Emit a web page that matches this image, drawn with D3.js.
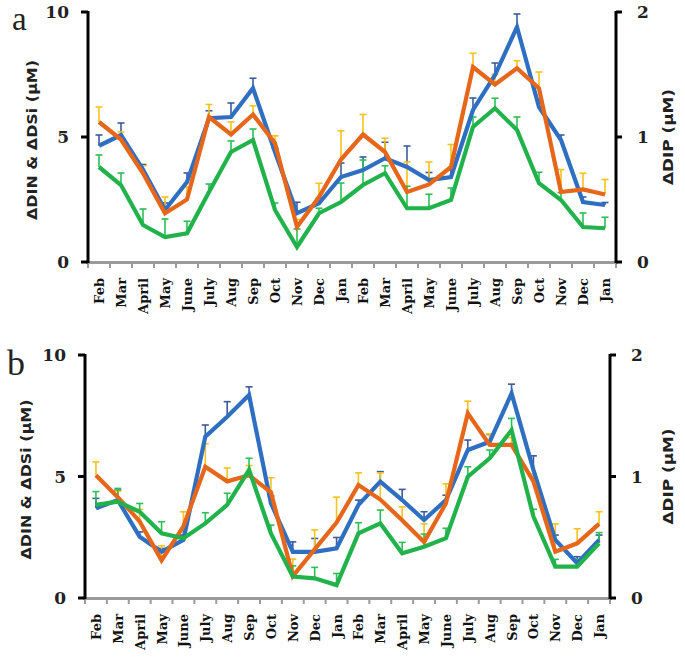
<!DOCTYPE html>
<html>
<head>
<meta charset="utf-8">
<script src="https://cdn.jsdelivr.net/npm/d3@7"></script>
<style>
  html, body { margin: 0; padding: 0; background: #fff; }
  svg { display: block; }
</style>
</head>
<body>
<svg id="chart" width="685" height="660"></svg>
<script>
// ---------- DATA ----------
const months = ["Feb","Mar","April","May","June","July","Aug","Sep","Oct","Nov","Dec","Jan",
                "Feb","Mar","April","May","June","July","Aug","Sep","Oct","Nov","Dec","Jan"];
const leftTicks = [0, 5, 10];
const rightTicks = [0, 1, 2];

// Panel a
const aDIN    = [4.65,5.08,3.70,2.08,3.20,5.75,5.80,6.95,4.40,1.95,2.35,3.40,3.68,4.15,3.80,3.28,3.40,6.08,7.48,9.40,6.20,4.88,2.40,2.28];
const aDINErr = [0.43,0.48,0.20,0.28,0.36,0.30,0.56,0.40,0.15,0.44,0.20,0.56,0.52,0.64,0.84,0.30,0.30,0.48,0.48,0.52,0.30,0.20,0.20,0.10];
const aDSi    = [3.80,3.08,1.48,1.00,1.15,2.80,4.40,4.88,2.08,0.60,1.95,2.40,3.08,3.55,2.15,2.15,2.48,5.40,6.15,5.28,3.15,2.48,1.40,1.35];
const aDSiErr = [0.48,0.48,0.64,0.72,0.48,0.32,0.44,0.44,0.28,0.72,0.20,0.76,1.00,0.30,0.88,0.56,0.48,0.40,0.40,0.52,0.44,0.30,0.56,0.44];
const aDIP    = [1.12,0.98,0.71,0.39,0.50,1.16,1.02,1.18,0.95,0.28,0.52,0.82,1.02,0.88,0.56,0.62,0.76,1.56,1.42,1.55,1.39,0.56,0.58,0.54];
const aDIPErr = [0.12,0.06,0.06,0.13,0.10,0.10,0.10,0.07,0.06,0.06,0.11,0.23,0.16,0.11,0.24,0.18,0.18,0.11,0.08,0.06,0.13,0.18,0.13,0.12];

// Panel b
const bDIN    = [3.69,4.03,2.52,1.90,2.39,6.64,7.46,8.35,3.90,1.90,1.90,2.04,3.83,4.79,4.03,3.21,4.03,6.09,6.43,8.42,5.27,2.39,1.43,2.39];
const bDINErr = [0.41,0.41,0.20,0.14,0.20,0.48,0.62,0.34,0.30,0.41,0.55,0.45,0.20,0.41,0.44,0.34,0.20,0.41,0.30,0.38,0.58,0.20,0.27,0.20];
const bDSi    = [3.83,3.96,3.55,2.66,2.46,3.07,3.83,5.27,2.66,0.88,0.81,0.53,2.66,3.07,1.84,2.11,2.46,4.99,5.75,6.91,3.35,1.29,1.29,2.25];
const bDSiErr = [0.55,0.55,0.34,0.48,0.41,0.44,0.48,0.48,0.34,0.44,0.45,0.48,0.44,0.55,0.45,0.52,0.41,0.41,0.34,0.48,0.30,0.30,0.30,0.44];
const bDIP    = [1.01,0.83,0.63,0.31,0.59,1.08,0.96,1.01,0.87,0.18,0.40,0.62,0.93,0.81,0.64,0.46,0.78,1.52,1.26,1.26,0.96,0.38,0.45,0.61];
const bDIPErr = [0.11,0.05,0.10,0.12,0.12,0.19,0.11,0.08,0.12,0.14,0.16,0.21,0.10,0.22,0.11,0.15,0.16,0.10,0.09,0.06,0.06,0.23,0.12,0.10];

// ---------- DRAW ----------
const svg = d3.select("#chart");
const serif = "'DejaVu Serif', 'Liberation Serif', serif";
const sans = "'DejaVu Sans', 'Liberation Sans', sans-serif";

function panel(cfg) {
  const g = svg.append("g");
  const x = d3.scaleBand().domain(d3.range(months.length)).range([cfg.left, cfg.right]).padding(0);
  const yL = d3.scaleLinear().domain([0, 10]).range([cfg.bottom, cfg.top]);
  const yR = d3.scaleLinear().domain([0, 2]).range([cfg.bottom, cfg.top]);
  const cx = i => x(i) + x.bandwidth() / 2;

  // x axis (gray) with ticks at band boundaries
  g.append("line").attr("x1", cfg.left - 2).attr("x2", cfg.right + 2)
    .attr("y1", cfg.bottom + 0.5).attr("y2", cfg.bottom + 0.5)
    .attr("stroke", "#9b9b9b").attr("stroke-width", 3);
  const bounds = d3.range(months.length + 1).map(i => cfg.left + i * x.bandwidth());
  g.selectAll(".xt").data(bounds).enter().append("line")
    .attr("x1", d => d).attr("x2", d => d)
    .attr("y1", cfg.bottom).attr("y2", cfg.bottom + 6)
    .attr("stroke", "#9b9b9b").attr("stroke-width", 2);
  g.selectAll(".xl").data(months).enter().append("text")
    .attr("transform", (d, i) => `translate(${cx(i) + 0.5},${cfg.bottom + 16}) rotate(-90)`)
    .attr("text-anchor", "end").attr("dominant-baseline", "central")
    .style("font-family", serif).style("font-weight", "bold").style("font-size", "13px")
    .attr("fill", "#111").text(d => d);

  // left axis
  g.append("line").attr("x1", cfg.left).attr("x2", cfg.left)
    .attr("y1", cfg.top - 1).attr("y2", cfg.bottom + 1)
    .attr("stroke", "#000").attr("stroke-width", 3);
  leftTicks.forEach(t => {
    g.append("line").attr("x1", cfg.left - 7).attr("x2", cfg.left)
      .attr("y1", yL(t)).attr("y2", yL(t)).attr("stroke", "#000").attr("stroke-width", 3);
    g.append("text").attr("x", cfg.left - 19).attr("y", yL(t) + 6)
      .attr("text-anchor", "end")
      .style("font-family", serif).style("font-weight", "bold").style("font-size", "17px")
      .attr("fill", "#222").text(t);
  });
  // right axis
  g.append("line").attr("x1", cfg.right).attr("x2", cfg.right)
    .attr("y1", cfg.top - 1).attr("y2", cfg.bottom + 1)
    .attr("stroke", "#000").attr("stroke-width", 3);
  rightTicks.forEach(t => {
    g.append("line").attr("x1", cfg.right).attr("x2", cfg.right + 6)
      .attr("y1", yR(t)).attr("y2", yR(t)).attr("stroke", "#000").attr("stroke-width", 3);
    g.append("text").attr("x", cfg.right + 21).attr("y", yR(t) + 6)
      .attr("text-anchor", "start")
      .style("font-family", serif).style("font-weight", "bold").style("font-size", "17px")
      .attr("fill", "#222").text(t);
  });

  // axis titles
  const midY = (cfg.top + cfg.bottom) / 2;
  g.append("text")
    .attr("transform", `translate(${cfg.titleLX},${midY + 3}) rotate(-90)`)
    .attr("text-anchor", "middle").attr("dominant-baseline", "central")
    .attr("textLength", 160).attr("lengthAdjust", "spacingAndGlyphs")
    .style("font-family", sans).style("font-weight", "bold").style("font-size", "14px")
    .attr("fill", "#222").text("ΔDIN & ΔDSi (μM)");
  g.append("text")
    .attr("transform", `translate(${cfg.titleRX},${midY}) rotate(-90)`)
    .attr("text-anchor", "middle").attr("dominant-baseline", "central")
    .attr("textLength", 96).attr("lengthAdjust", "spacingAndGlyphs")
    .style("font-family", sans).style("font-weight", "bold").style("font-size", "14px")
    .attr("fill", "#222").text("ΔDIP (μM)");

  // panel letter
  g.append("text").attr("x", cfg.letterX).attr("y", cfg.letterY)
    .style("font-family", "'Liberation Serif', 'DejaVu Serif', serif")
    .style("font-size", cfg.letterSize + "px").attr("fill", "#222").text(cfg.letter);

  // series
  const series = [
    { vals: cfg.din, err: cfg.dinErr, y: yL, color: "#2f6fc1", errColor: "#3b5b9e" },
    { vals: cfg.dip, err: cfg.dipErr, y: yR, color: "#e6661a", errColor: "#f7c21c" },
    { vals: cfg.dsi, err: cfg.dsiErr, y: yL, color: "#22b24b", errColor: "#2cbf55" }
  ];
  // error bars first
  series.forEach(s => {
    const eg = g.append("g");
    s.vals.forEach((v, i) => {
      const x0 = cx(i), y0 = s.y(v), y1 = s.y(v + s.err[i]);
      eg.append("line").attr("x1", x0).attr("x2", x0).attr("y1", y0).attr("y2", y1)
        .attr("stroke", s.errColor).attr("stroke-width", 1.6);
      eg.append("line").attr("x1", x0 - 3.5).attr("x2", x0 + 3.5).attr("y1", y1).attr("y2", y1)
        .attr("stroke", s.errColor).attr("stroke-width", 1.6);
    });
  });
  series.forEach(s => {
    const line = d3.line().x((d, i) => cx(i)).y(d => s.y(d));
    g.append("path").datum(s.vals).attr("d", line)
      .attr("fill", "none").attr("stroke", s.color).attr("stroke-width", 4.2)
      .attr("stroke-linejoin", "miter").attr("stroke-miterlimit", 3);
  });
}

panel({ left: 88, right: 616, top: 12, bottom: 262, titleLX: 32, titleRX: 668,
        letter: "a", letterX: 12, letterY: 29.5, letterSize: 33,
        din: aDIN, dinErr: aDINErr, dsi: aDSi, dsiErr: aDSiErr, dip: aDIP, dipErr: aDIPErr });
panel({ left: 85, right: 610, top: 355, bottom: 598, titleLX: 26, titleRX: 668,
        letter: "b", letterX: 7, letterY: 375, letterSize: 36,
        din: bDIN, dinErr: bDINErr, dsi: bDSi, dsiErr: bDSiErr, dip: bDIP, dipErr: bDIPErr });
</script>
</body>
</html>
